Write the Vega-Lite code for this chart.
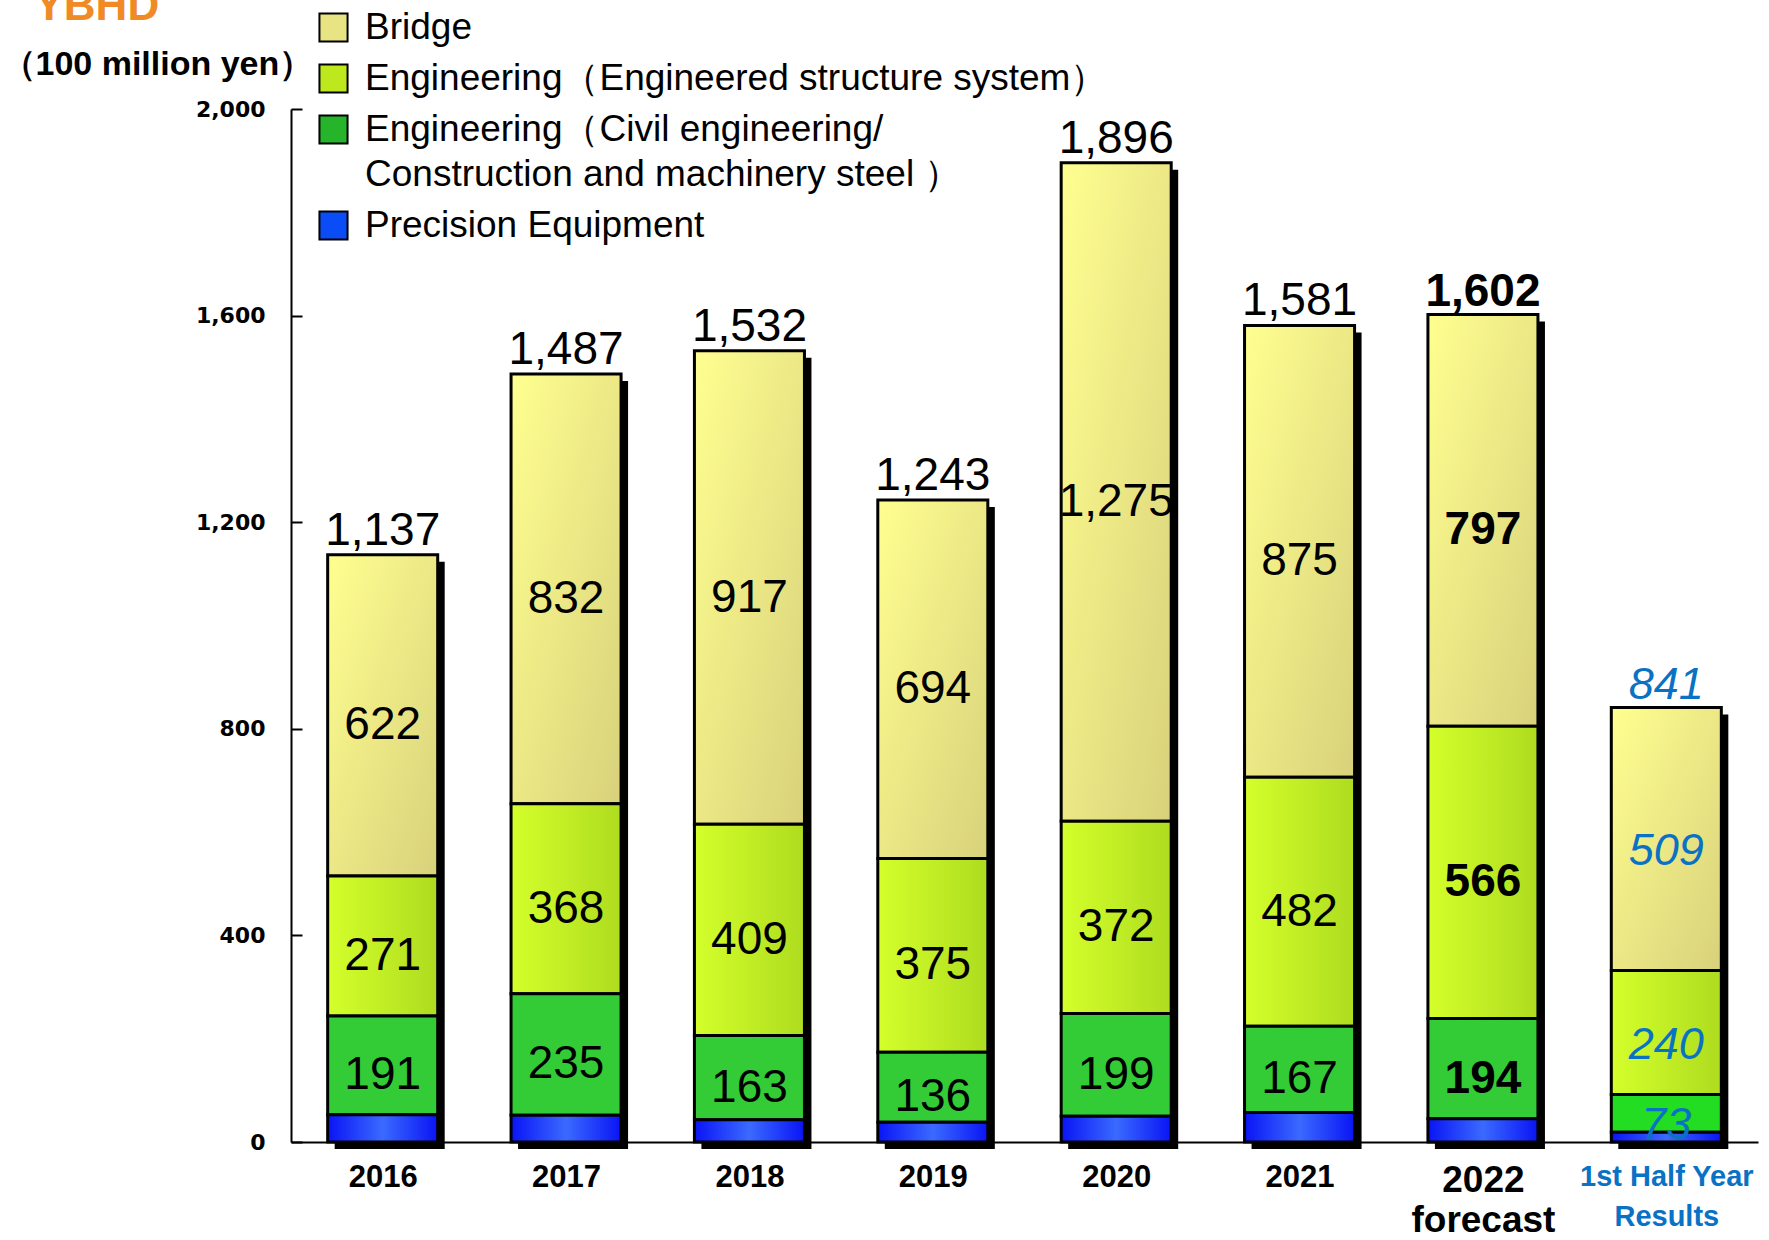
{
  "$schema": "https://vega.github.io/schema/vega-lite/v6.json",
  "width": 1467,
  "height": 1033,
  "autosize": {"type": "none"},
  "padding": {"left": 291, "top": 109, "right": 11, "bottom": 98},
  "background": "white",
  "data": {"values": [
    {"cat": "2016", "series": "Bridge", "ord": 4, "value": 622},
    {"cat": "2016", "series": "Engineering（Engineered structure system）", "ord": 3, "value": 271},
    {"cat": "2016", "series": "Engineering（Civil engineering/Construction and machinery steel ）", "ord": 2, "value": 191},
    {"cat": "2016", "series": "Precision Equipment", "ord": 1, "value": 53},
    {"cat": "2017", "series": "Bridge", "ord": 4, "value": 832},
    {"cat": "2017", "series": "Engineering（Engineered structure system）", "ord": 3, "value": 368},
    {"cat": "2017", "series": "Engineering（Civil engineering/Construction and machinery steel ）", "ord": 2, "value": 235},
    {"cat": "2017", "series": "Precision Equipment", "ord": 1, "value": 52},
    {"cat": "2018", "series": "Bridge", "ord": 4, "value": 917},
    {"cat": "2018", "series": "Engineering（Engineered structure system）", "ord": 3, "value": 409},
    {"cat": "2018", "series": "Engineering（Civil engineering/Construction and machinery steel ）", "ord": 2, "value": 163},
    {"cat": "2018", "series": "Precision Equipment", "ord": 1, "value": 43},
    {"cat": "2019", "series": "Bridge", "ord": 4, "value": 694},
    {"cat": "2019", "series": "Engineering（Engineered structure system）", "ord": 3, "value": 375},
    {"cat": "2019", "series": "Engineering（Civil engineering/Construction and machinery steel ）", "ord": 2, "value": 136},
    {"cat": "2019", "series": "Precision Equipment", "ord": 1, "value": 38},
    {"cat": "2020", "series": "Bridge", "ord": 4, "value": 1275},
    {"cat": "2020", "series": "Engineering（Engineered structure system）", "ord": 3, "value": 372},
    {"cat": "2020", "series": "Engineering（Civil engineering/Construction and machinery steel ）", "ord": 2, "value": 199},
    {"cat": "2020", "series": "Precision Equipment", "ord": 1, "value": 50},
    {"cat": "2021", "series": "Bridge", "ord": 4, "value": 875},
    {"cat": "2021", "series": "Engineering（Engineered structure system）", "ord": 3, "value": 482},
    {"cat": "2021", "series": "Engineering（Civil engineering/Construction and machinery steel ）", "ord": 2, "value": 167},
    {"cat": "2021", "series": "Precision Equipment", "ord": 1, "value": 57},
    {"cat": "2022 forecast", "series": "Bridge", "ord": 4, "value": 797},
    {"cat": "2022 forecast", "series": "Engineering（Engineered structure system）", "ord": 3, "value": 566},
    {"cat": "2022 forecast", "series": "Engineering（Civil engineering/Construction and machinery steel ）", "ord": 2, "value": 194},
    {"cat": "2022 forecast", "series": "Precision Equipment", "ord": 1, "value": 45},
    {"cat": "1st Half Year Results", "series": "Bridge", "ord": 4, "value": 509},
    {"cat": "1st Half Year Results", "series": "Engineering（Engineered structure system）", "ord": 3, "value": 240},
    {"cat": "1st Half Year Results", "series": "Engineering（Civil engineering/Construction and machinery steel ）", "ord": 2, "value": 73},
    {"cat": "1st Half Year Results", "series": "Precision Equipment", "ord": 1, "value": 19}
  ]},
  "transform": [
    {"stack": "value", "groupby": ["cat"], "sort": [{"field": "ord", "order": "ascending"}], "as": ["v0", "v1"]}
  ],
  "encoding": {
    "x": {
      "field": "cat", "type": "nominal", "title": "YBHD",
      "scale": {"domain": ["2016", "2017", "2018", "2019", "2020", "2021", "2022 forecast", "1st Half Year Results"], "paddingInner": 0.4, "paddingOuter": 0.2},
      "axis": {
        "labelAngle": 0, "tickBand": "extent", "tickSize": -9, "tickWidth": 2, "tickColor": "black",
        "domainColor": "black", "domainWidth": 2, "labelPadding": 29, "labelLimit": 400,
        "labelExpr": "datum.value == '2022 forecast' ? ['2022', 'forecast'] : datum.value == '1st Half Year Results' ? ['1st Half Year', 'Results'] : datum.value",
        "labelFont": "Liberation Sans",
        "labelFontSize": {"condition": [{"test": "datum.value == '2022 forecast'", "value": 37}, {"test": "datum.value == '1st Half Year Results'", "value": 29}], "value": 31},
        "labelColor": {"condition": {"test": "datum.value == '1st Half Year Results'", "value": "#0A72C4"}, "value": "black"},
        "labelFontWeight": "bold",
        "labelLineHeight": 40,
        "titleX": -257, "titleY": -1123, "titleAlign": "left", "titleBaseline": "alphabetic", "titleAngle": 0,
        "titleColor": "#F08A24", "titleFont": "Liberation Sans", "titleFontSize": 44, "titleFontWeight": "bold"
      }
    }
  },
  "layer": [
    {
      "transform": [{"aggregate": [{"op": "sum", "field": "value", "as": "total"}], "groupby": ["cat"]}],
      "mark": {"type": "bar", "color": "black", "xOffset": 7, "yOffset": 7},
      "encoding": {"y": {"field": "total", "type": "quantitative", "title": "（100 million yen）", "scale": {"domain": [0, 2000], "nice": false}}}
    },
    {
      "mark": {"type": "bar", "stroke": "black", "strokeWidth": 3},
      "encoding": {
        "y": {
          "field": "v1", "type": "quantitative", "title": "（100 million yen）",
          "scale": {"domain": [0, 2000], "nice": false},
          "axis": {
            "values": [0, 400, 800, 1200, 1600, 2000], "format": ",.0f", "grid": false,
            "tickSize": -11, "tickWidth": 2, "tickColor": "black", "domainColor": "black", "domainWidth": 2,
            "labelPadding": 37, "labelFont": "DejaVu Sans", "labelFontWeight": "bold", "labelFontSize": 22, "labelColor": "black",
            "titleAngle": 0, "titleX": -290, "titleY": -45, "titleAlign": "left", "titleBaseline": "middle",
            "titleFont": "Liberation Sans", "titleFontSize": 34, "titleFontWeight": "bold", "titleColor": "black"
          }
        },
        "y2": {"field": "v0"},
        "color": {
          "condition": [
            {"test": "datum.series == 'Bridge'", "value": {"gradient": "linear", "x1": 0, "y1": 0, "x2": 1, "y2": 1, "stops": [{"offset": 0, "color": "#FFFF90"}, {"offset": 1, "color": "#D8D17B"}]}},
            {"test": "datum.series == 'Engineering（Engineered structure system）'", "value": {"gradient": "linear", "x1": 0, "y1": 0, "x2": 1, "y2": 0, "stops": [{"offset": 0, "color": "#D4FF2B"}, {"offset": 1, "color": "#AEDC1F"}]}},
            {"test": "datum.series == 'Precision Equipment'", "value": {"gradient": "linear", "x1": 0, "y1": 0, "x2": 1, "y2": 0, "stops": [{"offset": 0, "color": "#0A14F5"}, {"offset": 0.5, "color": "#3A6AFF"}, {"offset": 1, "color": "#0A14F5"}]}},
            {"test": "datum.cat == '1st Half Year Results'", "value": "#22DD22"}
          ],
          "value": "#33CC36"
        }
      }
    },
    {
      "transform": [{"filter": "datum.cat == '2016'"}],
      "mark": {"type": "bar", "opacity": 0, "stroke": "black", "strokeWidth": 2},
      "encoding": {
        "y": {"field": "v0", "type": "quantitative", "title": "（100 million yen）", "scale": {"domain": [0, 2000], "nice": false}},
        "y2": {"field": "v0"},
        "fill": {
          "field": "series", "type": "nominal",
          "scale": {
            "domain": ["Bridge", "Engineering（Engineered structure system）", "Engineering（Civil engineering/Construction and machinery steel ）", "Precision Equipment"],
            "range": ["#E8E484", "#BDE81E", "#26B42A", "#0A4CF5"]
          },
          "legend": {
            "orient": "none", "legendX": 24, "legendY": -100, "title": null, "direction": "vertical",
            "symbolType": "square", "symbolSize": 790, "symbolStrokeColor": "black", "symbolStrokeWidth": 2, "symbolOpacity": 1,
            "labelFont": "Liberation Sans", "labelFontSize": 37, "labelColor": "black", "labelLimit": 2000,
            "labelOffset": 13, "rowPadding": 13, "labelBaseline": "top", "padding": 0,
            "labelExpr": "datum.label == 'Engineering（Civil engineering/Construction and machinery steel ）' ? ['Engineering（Civil engineering/', 'Construction and machinery steel ）'] : datum.label",
            "encode": {
              "labels": {"update": {"dy": {"value": -18}, "lineHeight": {"value": 45}}},
              "symbols": {"update": {
                "opacity": {"value": 1},
                "stroke": {"value": "black"},
                "strokeWidth": {"value": 2},
                "fill": {"signal": "datum.value == 'Bridge' ? {gradient: 'linear', x1: 0, y1: 0, x2: 1, y2: 1, stops: [{offset: 0, color: '#BDB564'}, {offset: 1, color: '#F2EE92'}]} : datum.value == 'Precision Equipment' ? {gradient: 'linear', x1: 0, y1: 0, x2: 1, y2: 1, stops: [{offset: 0, color: '#0030C0'}, {offset: 1, color: '#0066FF'}]} : datum.value == 'Engineering（Engineered structure system）' ? {gradient: 'linear', x1: 0, y1: 0, x2: 1, y2: 1, stops: [{offset: 0, color: '#8FAF10'}, {offset: 1, color: '#C8F030'}]} : {gradient: 'linear', x1: 0, y1: 0, x2: 1, y2: 1, stops: [{offset: 0, color: '#137A1E'}, {offset: 1, color: '#2ACC2A'}]}"}
              }}
            }
          }
        }
      }
    },
    {
      "transform": [
        {"filter": "datum.series != 'Precision Equipment' && datum.cat != '2022 forecast' && datum.cat != '1st Half Year Results'"},
        {"fold": ["v0", "v1"], "as": ["edgeKey", "edge"]},
        {"aggregate": [{"op": "mean", "field": "edge", "as": "mid"}], "groupby": ["cat", "series", "value"]}
      ],
      "mark": {"type": "text", "font": "Liberation Sans", "fontSize": 46, "color": "black", "baseline": "middle", "dy": 10},
      "encoding": {
        "y": {"field": "mid", "type": "quantitative", "title": "（100 million yen）", "scale": {"domain": [0, 2000], "nice": false}},
        "text": {"field": "value", "type": "quantitative", "format": ","}
      }
    },
    {
      "transform": [
        {"filter": "datum.series != 'Precision Equipment' && datum.cat == '2022 forecast'"},
        {"fold": ["v0", "v1"], "as": ["edgeKey", "edge"]},
        {"aggregate": [{"op": "mean", "field": "edge", "as": "mid"}], "groupby": ["cat", "series", "value"]}
      ],
      "mark": {"type": "text", "font": "Liberation Sans", "fontSize": 46, "fontWeight": "bold", "color": "black", "baseline": "middle", "dy": 10},
      "encoding": {
        "y": {"field": "mid", "type": "quantitative", "title": "（100 million yen）", "scale": {"domain": [0, 2000], "nice": false}},
        "text": {"field": "value", "type": "quantitative", "format": ","}
      }
    },
    {
      "transform": [
        {"filter": "datum.series != 'Precision Equipment' && datum.cat == '1st Half Year Results'"},
        {"fold": ["v0", "v1"], "as": ["edgeKey", "edge"]},
        {"aggregate": [{"op": "mean", "field": "edge", "as": "mid"}], "groupby": ["cat", "series", "value"]}
      ],
      "mark": {"type": "text", "font": "Liberation Sans", "fontSize": 45, "fontStyle": "italic", "color": "#0A72C4", "baseline": "middle", "dy": 12},
      "encoding": {
        "y": {"field": "mid", "type": "quantitative", "title": "（100 million yen）", "scale": {"domain": [0, 2000], "nice": false}},
        "text": {"field": "value", "type": "quantitative", "format": ","}
      }
    },
    {
      "transform": [
        {"filter": "datum.cat != '2022 forecast' && datum.cat != '1st Half Year Results'"},
        {"aggregate": [{"op": "sum", "field": "value", "as": "total"}], "groupby": ["cat"]}
      ],
      "mark": {"type": "text", "font": "Liberation Sans", "fontSize": 46, "color": "black", "baseline": "alphabetic", "dy": -10},
      "encoding": {
        "y": {"field": "total", "type": "quantitative", "title": "（100 million yen）", "scale": {"domain": [0, 2000], "nice": false}},
        "text": {"field": "total", "type": "quantitative", "format": ","}
      }
    },
    {
      "transform": [
        {"filter": "datum.cat == '2022 forecast'"},
        {"aggregate": [{"op": "sum", "field": "value", "as": "total"}], "groupby": ["cat"]}
      ],
      "mark": {"type": "text", "font": "Liberation Sans", "fontSize": 46, "fontWeight": "bold", "color": "black", "baseline": "alphabetic", "dy": -9},
      "encoding": {
        "y": {"field": "total", "type": "quantitative", "title": "（100 million yen）", "scale": {"domain": [0, 2000], "nice": false}},
        "text": {"field": "total", "type": "quantitative", "format": ","}
      }
    },
    {
      "transform": [
        {"filter": "datum.cat == '1st Half Year Results'"},
        {"aggregate": [{"op": "sum", "field": "value", "as": "total"}], "groupby": ["cat"]}
      ],
      "mark": {"type": "text", "font": "Liberation Sans", "fontSize": 45, "fontStyle": "italic", "color": "#0A72C4", "baseline": "alphabetic", "dy": -9},
      "encoding": {
        "y": {"field": "total", "type": "quantitative", "title": "（100 million yen）", "scale": {"domain": [0, 2000], "nice": false}},
        "text": {"field": "total", "type": "quantitative", "format": ","}
      }
    }
  ],
  "config": {"view": {"stroke": null}}
}
